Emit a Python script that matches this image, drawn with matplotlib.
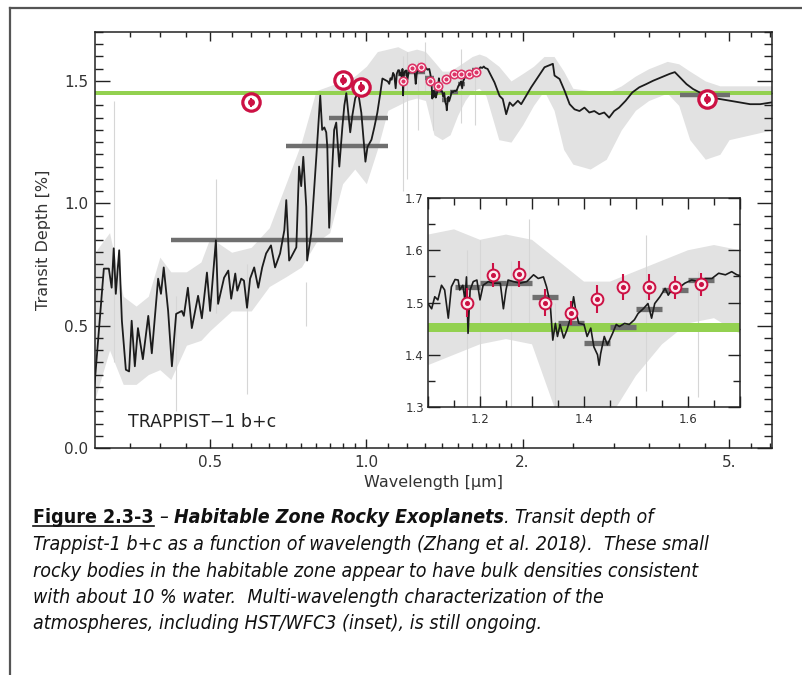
import numpy as np
import matplotlib
matplotlib.use('Agg')
import matplotlib.pyplot as plt
from matplotlib import font_manager
from matplotlib.lines import Line2D
from matplotlib.ticker import FixedLocator, FixedFormatter, MultipleLocator, NullFormatter, FormatStrFormatter

# binned model spectrum (wavelength in micron, transit depth in %)
model_wl = [0.299, 0.312, 0.319, 0.323, 0.326, 0.329, 0.334, 0.338, 0.344, 0.349,
            0.353, 0.358, 0.363, 0.371, 0.380, 0.386, 0.397, 0.402, 0.407, 0.415,
            0.422, 0.430, 0.441, 0.445, 0.453, 0.461, 0.474, 0.482, 0.493, 0.500,
            0.513, 0.518, 0.532, 0.542, 0.549, 0.559, 0.564, 0.574, 0.581, 0.589,
            0.597, 0.608, 0.619, 0.630, 0.641, 0.655, 0.667, 0.682, 0.695, 0.701,
            0.710, 0.716, 0.733, 0.742, 0.749, 0.756, 0.766, 0.769, 0.783, 0.801,
            0.815, 0.822, 0.830, 0.837, 0.841, 0.848, 0.860, 0.867, 0.875, 0.887,
            0.899, 0.907, 0.915, 0.931, 0.940, 0.952, 0.965, 0.978, 0.996, 1.005,
            1.023, 1.036, 1.050, 1.064, 1.074,
            1.100, 1.107, 1.113, 1.119, 1.126, 1.132, 1.139, 1.145, 1.152, 1.158,
            1.161, 1.167, 1.171, 1.174, 1.177, 1.181, 1.187, 1.194, 1.200, 1.206,
            1.216, 1.226, 1.239, 1.245, 1.250, 1.254, 1.264, 1.277, 1.290, 1.303,
            1.312, 1.322, 1.328, 1.335, 1.340, 1.345, 1.349, 1.354, 1.361, 1.367,
            1.374, 1.380, 1.385, 1.390, 1.400, 1.406, 1.413, 1.419, 1.426, 1.429,
            1.432, 1.439, 1.445, 1.455, 1.462, 1.468, 1.478, 1.487, 1.497, 1.504,
            1.514, 1.523, 1.530, 1.536, 1.546, 1.556, 1.562, 1.572, 1.581, 1.594,
            1.607, 1.620, 1.633, 1.646, 1.659, 1.672, 1.684, 1.694,
            1.713, 1.766, 1.806, 1.832, 1.860, 1.889, 1.916, 1.959, 1.988, 2.032,
            2.078, 2.140, 2.205, 2.288, 2.305, 2.357, 2.410, 2.465, 2.519, 2.575,
            2.632, 2.690, 2.750, 2.811, 2.874, 2.937, 3.003, 3.069, 3.160, 3.255,
            3.357, 3.462, 3.571, 3.703, 3.842, 3.931, 4.020, 4.140, 4.262, 4.388,
            4.593, 4.810, 5.025, 5.250, 5.490, 5.740, 6.030]
model_depth = [0.243, 0.733, 0.733, 0.655, 0.816, 0.630, 0.808, 0.520, 0.320, 0.313,
               0.520, 0.334, 0.490, 0.363, 0.540, 0.387, 0.692, 0.630, 0.738, 0.560,
               0.334, 0.548, 0.560, 0.540, 0.655, 0.490, 0.622, 0.530, 0.717, 0.560,
               0.849, 0.589, 0.696, 0.725, 0.610, 0.713, 0.643, 0.692, 0.684, 0.573,
               0.692, 0.738, 0.655, 0.738, 0.795, 0.828, 0.738, 0.795, 0.890, 1.013,
               0.766, 0.779, 0.820, 1.150, 1.070, 1.190, 0.985, 0.766, 0.877, 1.190,
               1.440, 1.300, 1.310, 1.290, 1.230, 0.900, 1.150, 1.300, 1.330, 1.150,
               1.310, 1.400, 1.450, 1.290, 1.360, 1.430, 1.450, 1.370, 1.170, 1.230,
               1.260, 1.310, 1.370, 1.450, 1.510,
               1.498, 1.488, 1.511, 1.505, 1.533, 1.524, 1.470, 1.530, 1.544, 1.543,
               1.524, 1.533, 1.505, 1.549, 1.441, 1.524, 1.540, 1.543, 1.505, 1.533,
               1.540, 1.537, 1.537, 1.488, 1.524, 1.543, 1.540, 1.537, 1.540, 1.553,
               1.546, 1.549, 1.530, 1.498, 1.428, 1.460, 1.435, 1.458, 1.432, 1.447,
               1.470, 1.511, 1.479, 1.460, 1.458, 1.435, 1.451, 1.415, 1.400, 1.380,
               1.402, 1.435, 1.419, 1.441, 1.458, 1.454, 1.460, 1.458, 1.467, 1.479,
               1.488, 1.498, 1.470, 1.498, 1.511, 1.527, 1.514, 1.530, 1.527, 1.537,
               1.543, 1.540, 1.546, 1.546, 1.556, 1.553, 1.559, 1.553,
               1.549, 1.494, 1.439, 1.426, 1.364, 1.412, 1.398, 1.419, 1.405, 1.439,
               1.474, 1.515, 1.556, 1.570, 1.522, 1.508, 1.460, 1.405, 1.384, 1.377,
               1.391, 1.371, 1.377, 1.364, 1.371, 1.350, 1.377, 1.391, 1.419, 1.453,
               1.474, 1.487, 1.501, 1.515, 1.529, 1.536, 1.515, 1.487, 1.467, 1.453,
               1.433, 1.426, 1.419, 1.412, 1.405, 1.405, 1.412]

# spread of the high resolution model
spread_wl = [0.30, 0.32, 0.34, 0.36, 0.38, 0.40, 0.42, 0.45, 0.48, 0.50,
             0.55, 0.60, 0.65, 0.70, 0.75, 0.80, 0.85, 0.90, 0.95, 1.00,
             1.05, 1.10, 1.15, 1.20, 1.25, 1.30, 1.35, 1.40, 1.45, 1.50,
             1.55, 1.60, 1.65, 1.70, 1.80, 1.90, 2.00, 2.10, 2.20, 2.30,
             2.40, 2.50, 2.70, 2.90, 3.10, 3.30, 3.50, 3.80, 4.00, 4.20,
             4.50, 4.80, 5.00, 5.50, 6.05]
spread_lo = [0.20, 0.40, 0.26, 0.26, 0.30, 0.32, 0.28, 0.42, 0.44, 0.48,
             0.56, 0.56, 0.66, 0.70, 0.74, 0.84, 0.88, 1.08, 1.14, 1.08,
             1.22, 1.38, 1.40, 1.42, 1.43, 1.42, 1.28, 1.26, 1.28, 1.36,
             1.42, 1.46, 1.47, 1.44, 1.26, 1.25, 1.32, 1.40, 1.46, 1.38,
             1.22, 1.16, 1.14, 1.18, 1.30, 1.38, 1.42, 1.45, 1.40, 1.26,
             1.18, 1.20, 1.26, 1.28, 1.30]
spread_hi = [0.80, 0.88, 0.62, 0.58, 0.62, 0.78, 0.72, 0.72, 0.76, 0.86,
             0.80, 0.82, 0.90, 1.08, 1.25, 1.46, 1.48, 1.50, 1.52, 1.56,
             1.62, 1.63, 1.64, 1.62, 1.63, 1.62, 1.58, 1.54, 1.54, 1.56,
             1.58, 1.60, 1.61, 1.60, 1.56, 1.50, 1.53, 1.56, 1.60, 1.60,
             1.54, 1.47, 1.46, 1.45, 1.48, 1.52, 1.55, 1.58, 1.57, 1.54,
             1.50, 1.48, 1.48, 1.48, 1.48]

# single long spikes of the high resolution model
spike_wl = [0.326, 0.430, 0.513, 0.589, 0.766, 1.175, 1.200, 1.260, 1.295, 1.345, 1.520, 1.620]
spike_lo = [0.35, 0.15, 0.55, 0.22, 0.50, 1.05, 1.10, 1.30, 1.45, 1.30, 1.33, 1.32]
spike_hi = [1.42, 0.62, 1.10, 0.75, 0.68, 1.60, 1.62, 1.58, 1.66, 1.50, 1.63, 1.56]

# broadband measurements
phot_wl = [0.60, 0.90, 0.977, 4.53]
phot_depth = [1.412, 1.505, 1.474, 1.426]
phot_err = [0.02, 0.02, 0.02, 0.02]

# HST/WFC3 spectrum
wfc3_wl = [1.175, 1.225, 1.275, 1.325, 1.375, 1.425, 1.475, 1.525, 1.575, 1.625]
wfc3_depth = [1.500, 1.553, 1.555, 1.500, 1.480, 1.506, 1.530, 1.530, 1.529, 1.535]
wfc3_err = [0.027, 0.023, 0.025, 0.025, 0.023, 0.027, 0.025, 0.025, 0.022, 0.022]

# model binned to the broadband points
broad_bin_lo = [0.42, 0.70, 0.848, 4.02]
broad_bin_hi = [0.90, 1.10, 1.10, 5.03]
broad_bin_depth = [0.850, 1.236, 1.350, 1.442]

# model binned to the WFC3 channels
wfc3_bin_lo = [1.152, 1.20, 1.25, 1.30, 1.35, 1.40, 1.45, 1.50, 1.55, 1.60]
wfc3_bin_hi = [1.20, 1.25, 1.30, 1.35, 1.40, 1.45, 1.50, 1.55, 1.60, 1.65]
wfc3_bin_depth = [1.530, 1.537, 1.537, 1.511, 1.460, 1.422, 1.454, 1.488, 1.524, 1.544]

# flat (featureless) spectrum
flat_lo, flat_hi = 1.444, 1.460

caption_lines = [
    'Trappist-1 b+c as a function of wavelength (Zhang et al. 2018).  These small',
    'rocky bodies in the habitable zone appear to have bulk densities consistent',
    'with about 10 % water.  Multi-wavelength characterization of the',
    'atmospheres, including HST/WFC3 (inset), is still ongoing.',
]

RED = '#cc1144'
PINK = '#dd3366'
GREEN = '#93d150'
BAR = '#6f6f6f'
SPREAD = '#e2e2e2'
INK = '#333333'

plt.rcParams['font.family'] = ['DejaVu Sans']

W, H = 802, 675
fig = plt.figure(figsize=(W / 100, H / 100), dpi=100)


def draw_spectrum(ax, lw, bar_lw):
    ax.fill_between(spread_wl, spread_lo, spread_hi, color=SPREAD, lw=0, zorder=1)
    ax.vlines(spike_wl, spike_lo, spike_hi, color='#d6d6d6', lw=0.8, zorder=1)
    ax.axhspan(flat_lo, flat_hi, color=GREEN, lw=0, zorder=2)
    ax.plot(model_wl, model_depth, color='#1c1c1c', lw=lw, zorder=4)
    ax.hlines(wfc3_bin_depth, wfc3_bin_lo, wfc3_bin_hi, color=BAR, lw=bar_lw, zorder=3)


def style_ticks(ax, xlen, ylen, size):
    ax.tick_params(which='both', direction='in', top=True, right=True,
                   width=1.0, color='#222222', labelcolor=INK, labelsize=size)
    ax.tick_params(axis='x', which='major', length=xlen[0])
    ax.tick_params(axis='x', which='minor', length=xlen[1])
    ax.tick_params(axis='y', which='major', length=ylen[0])
    ax.tick_params(axis='y', which='minor', length=ylen[1])
    for sp in ax.spines.values():
        sp.set_linewidth(1.1)
        sp.set_color('#222222')


# main panel
ax = fig.add_axes([95 / W, 1 - 448 / H, 677 / W, 416 / H])
draw_spectrum(ax, 1.3, 3.2)
ax.hlines(broad_bin_depth, broad_bin_lo, broad_bin_hi, color=BAR, lw=3.2, zorder=3)

ax.plot(phot_wl, phot_depth, 'o', ms=12.5, mfc='white', mec=RED, mew=2.3, zorder=5)
ax.errorbar(phot_wl, phot_depth, yerr=phot_err, fmt='o', ms=4, color=RED,
            elinewidth=1.4, capsize=0, zorder=6)
ax.plot(wfc3_wl, wfc3_depth, 'o', ms=6, mfc='white', mec=PINK, mew=1.2, zorder=5)
ax.plot(wfc3_wl, wfc3_depth, 'o', ms=2, color=PINK, zorder=6)

ax.set_xscale('log')
ax.set_xlim(0.3, 6.05)
ax.set_ylim(0, 1.7)
ax.xaxis.set_major_locator(FixedLocator([0.5, 1.0, 2.0, 5.0]))
ax.xaxis.set_major_formatter(FixedFormatter(['0.5', '1.0', '2.', '5.']))
xminor = list(np.arange(0.35, 0.99, 0.05)) + list(np.arange(1.1, 1.95, 0.1)) + [2.5, 3.0, 3.5, 4.0, 4.5, 5.5, 6.0]
ax.xaxis.set_minor_locator(FixedLocator(xminor))
ax.xaxis.set_minor_formatter(NullFormatter())
ax.yaxis.set_major_locator(MultipleLocator(0.5))
ax.yaxis.set_minor_locator(MultipleLocator(0.05))
ax.yaxis.set_major_formatter(FormatStrFormatter('%.1f'))
style_ticks(ax, (6.5, 3.5), (10.5, 5.5), 11)
ax.tick_params(axis='x', pad=5)
ax.tick_params(axis='y', pad=5)
ax.set_xlabel('Wavelength [\u03bcm]', fontsize=11.5, color=INK, labelpad=4)
ax.set_ylabel('Transit Depth [%]', fontsize=11.5, color=INK, labelpad=9)
ax.text(0.049, 0.063, 'TRAPPIST\u22121 b+c', transform=ax.transAxes, fontsize=12.5,
        color='#222222', va='center', ha='left', zorder=7)

# WFC3 inset
axi = fig.add_axes([428 / W, 1 - 407 / H, 312 / W, 209 / H])
draw_spectrum(axi, 1.2, 3.8)
axi.errorbar(wfc3_wl, wfc3_depth, yerr=wfc3_err, fmt='none', ecolor=RED,
             elinewidth=1.5, capsize=0, zorder=5)
axi.plot(wfc3_wl, wfc3_depth, 'o', ms=8.5, mfc='#fbe9ee', mec=RED, mew=1.4, zorder=6)
axi.plot(wfc3_wl, wfc3_depth, 'o', ms=2.6, color=RED, zorder=7)
axi.set_xlim(1.1, 1.7)
axi.set_ylim(1.3, 1.7)
axi.xaxis.set_major_locator(FixedLocator([1.1, 1.2, 1.3, 1.4, 1.5, 1.6, 1.7]))
axi.xaxis.set_major_formatter(FixedFormatter(['', '1.2', '', '1.4', '', '1.6', '']))
axi.xaxis.set_minor_locator(MultipleLocator(0.05))
axi.yaxis.set_major_locator(MultipleLocator(0.1))
axi.yaxis.set_minor_locator(MultipleLocator(0.05))
axi.yaxis.set_major_formatter(FormatStrFormatter('%.1f'))
style_ticks(axi, (8, 5), (8.5, 5), 8.5)
axi.tick_params(axis='x', pad=4)
axi.tick_params(axis='y', pad=3)

# page frame
fig.add_artist(Line2D([10 / W, 10 / W], [0, 1 - 8 / H], color='#555555', lw=1.6))
fig.add_artist(Line2D([10 / W, 1], [1 - 8 / H, 1 - 8 / H], color='#555555', lw=1.6))

# caption font: a narrow sans if there is one
entries = font_manager.fontManager.ttflist
if any(f.name == 'Liberation Sans Narrow' for f in entries):
    cap_font = dict(family='Liberation Sans Narrow')
elif any(f.name == 'DejaVu Sans' and f.stretch == 'condensed' for f in entries):
    cap_font = dict(family='DejaVu Sans', fontstretch='condensed')
else:
    cap_font = dict(family='Liberation Sans')

renderer = fig.canvas.get_renderer()


def text_width(s, size, **kw):
    t = fig.text(0, 0, s, fontsize=size, **cap_font, **kw)
    w = t.get_window_extent(renderer).width
    t.remove()
    return w


# size the caption so that its second line spans the text block
cap_size = 14 * 679 / text_width(caption_lines[0], 14, fontstyle='italic')
gap = text_width('a a', cap_size, fontstyle='italic') - text_width('aa', cap_size, fontstyle='italic')

x0 = 33
baselines = [523, 550, 577, 603, 629]

first_line = [
    ('Figure 2.3-3', 'bold', 'normal', True, False),
    ('\u2013', 'normal', 'italic', False, True),
    ('Habitable Zone Rocky Exoplanets', 'bold', 'italic', False, True),
    ('.', 'normal', 'italic', False, False),
    ('Transit depth of', 'normal', 'italic', False, True),
]
x = x0
for txt, weight, style, under, space in first_line:
    if space:
        x += gap
    t = fig.text(x / W, 1 - baselines[0] / H, txt, fontsize=cap_size, fontweight=weight,
                 fontstyle=style, va='baseline', ha='left', color='#111111', **cap_font)
    bb = t.get_window_extent(renderer)
    if under:
        fig.add_artist(Line2D([bb.x0 / W, bb.x1 / W], [1 - (baselines[0] + 3) / H] * 2,
                              color='#111111', lw=1.2))
    x += bb.width

for line, yb in zip(caption_lines, baselines[1:]):
    fig.text(x0 / W, 1 - yb / H, line, fontsize=cap_size, fontstyle='italic',
             va='baseline', ha='left', color='#111111', **cap_font)

fig.savefig('out.png', dpi=100)
